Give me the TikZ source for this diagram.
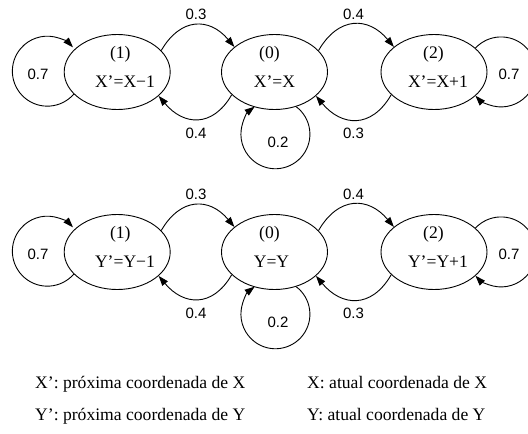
\documentclass[tikz,border=0pt]{standalone}
\usepackage{fontspec}
\setmainfont{Liberation Serif}
\newfontfamily\lblfont{Liberation Sans}
\usetikzlibrary{arrows.meta,shapes.geometric}
\begin{document}
\begin{tikzpicture}[x=1pt,y=1pt,
  state/.style={ellipse,draw,line width=0.9pt,minimum width=106pt,minimum height=75pt,inner sep=0pt},
  txt/.style={font=\fontsize{17.6}{20}\selectfont,anchor=base,inner sep=0pt},
  prob/.style={font=\lblfont\fontsize{15}{18}\selectfont,inner sep=0pt},
  arr/.style={line width=0.9pt,-{Triangle[length=10pt,width=7pt]}},
]
\clip (0,-434) rectangle (528,0);
\useasboundingbox (0,-434) rectangle (528,0);

% ---------- top row (X)
\node[state] (a1) at (117.2,-72) {};
\node[state] (a0) at (274.5,-72) {};
\node[state] (a2) at (434,-72) {};
\node[txt] (a1t) at (120.3,-58.5) {(1)};
\node[txt] (a1e) at (125,-87) {X’=X−1};
\node[txt] (a0t) at (269.5,-58.5) {(0)};
\node[txt] (a0e) at (274.5,-87) {X’=X};
\node[txt] (a2t) at (433.5,-58.5) {(2)};
\node[txt] (a2e) at (438,-87) {X’=X+1};

\draw[arr] (a1.26) to[out=60,in=130,looseness=1.35] (a0.148);
\draw[arr] (a0.208) to[out=240,in=310,looseness=1.35] (a1.330);
\draw[arr] (a0.26) to[out=60,in=130,looseness=1.35] (a2.148);
\draw[arr] (a2.208) to[out=240,in=310,looseness=1.35] (a0.330);
\draw[arr] (a1.207) arc[start angle=-41,delta angle=-276,radius=35];
\draw[arr] (a0.302) arc[start angle=53,delta angle=-286,radius=34.5];
\draw[arr] (a2.30) arc[start angle=137,delta angle=-274,radius=35];

\node[prob] (ap1) at (38,-74) {0.7};
\node[prob] (ap2) at (196,-14.3) {0.3};
\node[prob] (ap3) at (196,-133) {0.4};
\node[prob] (ap4) at (278,-142) {0.2};
\node[prob] (ap5) at (353.5,-14.3) {0.4};
\node[prob] (ap6) at (353.5,-133) {0.3};
\node[prob] (ap7) at (509,-74) {0.7};

% ---------- bottom row (Y)
\begin{scope}[yshift=-180pt]
\node[state] (b1) at (117.2,-72) {};
\node[state] (b0) at (274.5,-72) {};
\node[state] (b2) at (434,-72) {};
\node[txt] (b1t) at (120.3,-58.5) {(1)};
\node[txt] (b1e) at (125,-87) {Y’=Y−1};
\node[txt] (b0t) at (269.5,-58.5) {(0)};
\node[txt] (b0e) at (271.5,-87) {Y=Y};
\node[txt] (b2t) at (433.5,-58.5) {(2)};
\node[txt] (b2e) at (438,-87) {Y’=Y+1};

\draw[arr] (b1.26) to[out=60,in=130,looseness=1.35] (b0.148);
\draw[arr] (b0.208) to[out=240,in=310,looseness=1.35] (b1.330);
\draw[arr] (b0.26) to[out=60,in=130,looseness=1.35] (b2.148);
\draw[arr] (b2.208) to[out=240,in=310,looseness=1.35] (b0.330);
\draw[arr] (b1.207) arc[start angle=-41,delta angle=-276,radius=35];
\draw[arr] (b0.302) arc[start angle=53,delta angle=-286,radius=34.5];
\draw[arr] (b2.30) arc[start angle=137,delta angle=-274,radius=35];

\node[prob] (bp1) at (38,-74) {0.7};
\node[prob] (bp2) at (196,-14.3) {0.3};
\node[prob] (bp3) at (196,-133) {0.4};
\node[prob] (bp4) at (278,-142) {0.2};
\node[prob] (bp5) at (353.5,-14.3) {0.4};
\node[prob] (bp6) at (353.5,-133) {0.3};
\node[prob] (bp7) at (509,-74) {0.7};
\end{scope}

% ---------- legend
\node[txt,anchor=base west] (l1) at (35,-388) {X’: próxima coordenada de X};
\node[txt,anchor=base west] (l2) at (307,-388) {X: atual coordenada de X};
\node[txt,anchor=base west] (l3) at (35,-420) {Y’: próxima coordenada de Y};
\node[txt,anchor=base west] (l4) at (307,-420) {Y: atual coordenada de Y};
\end{tikzpicture}
\end{document}
